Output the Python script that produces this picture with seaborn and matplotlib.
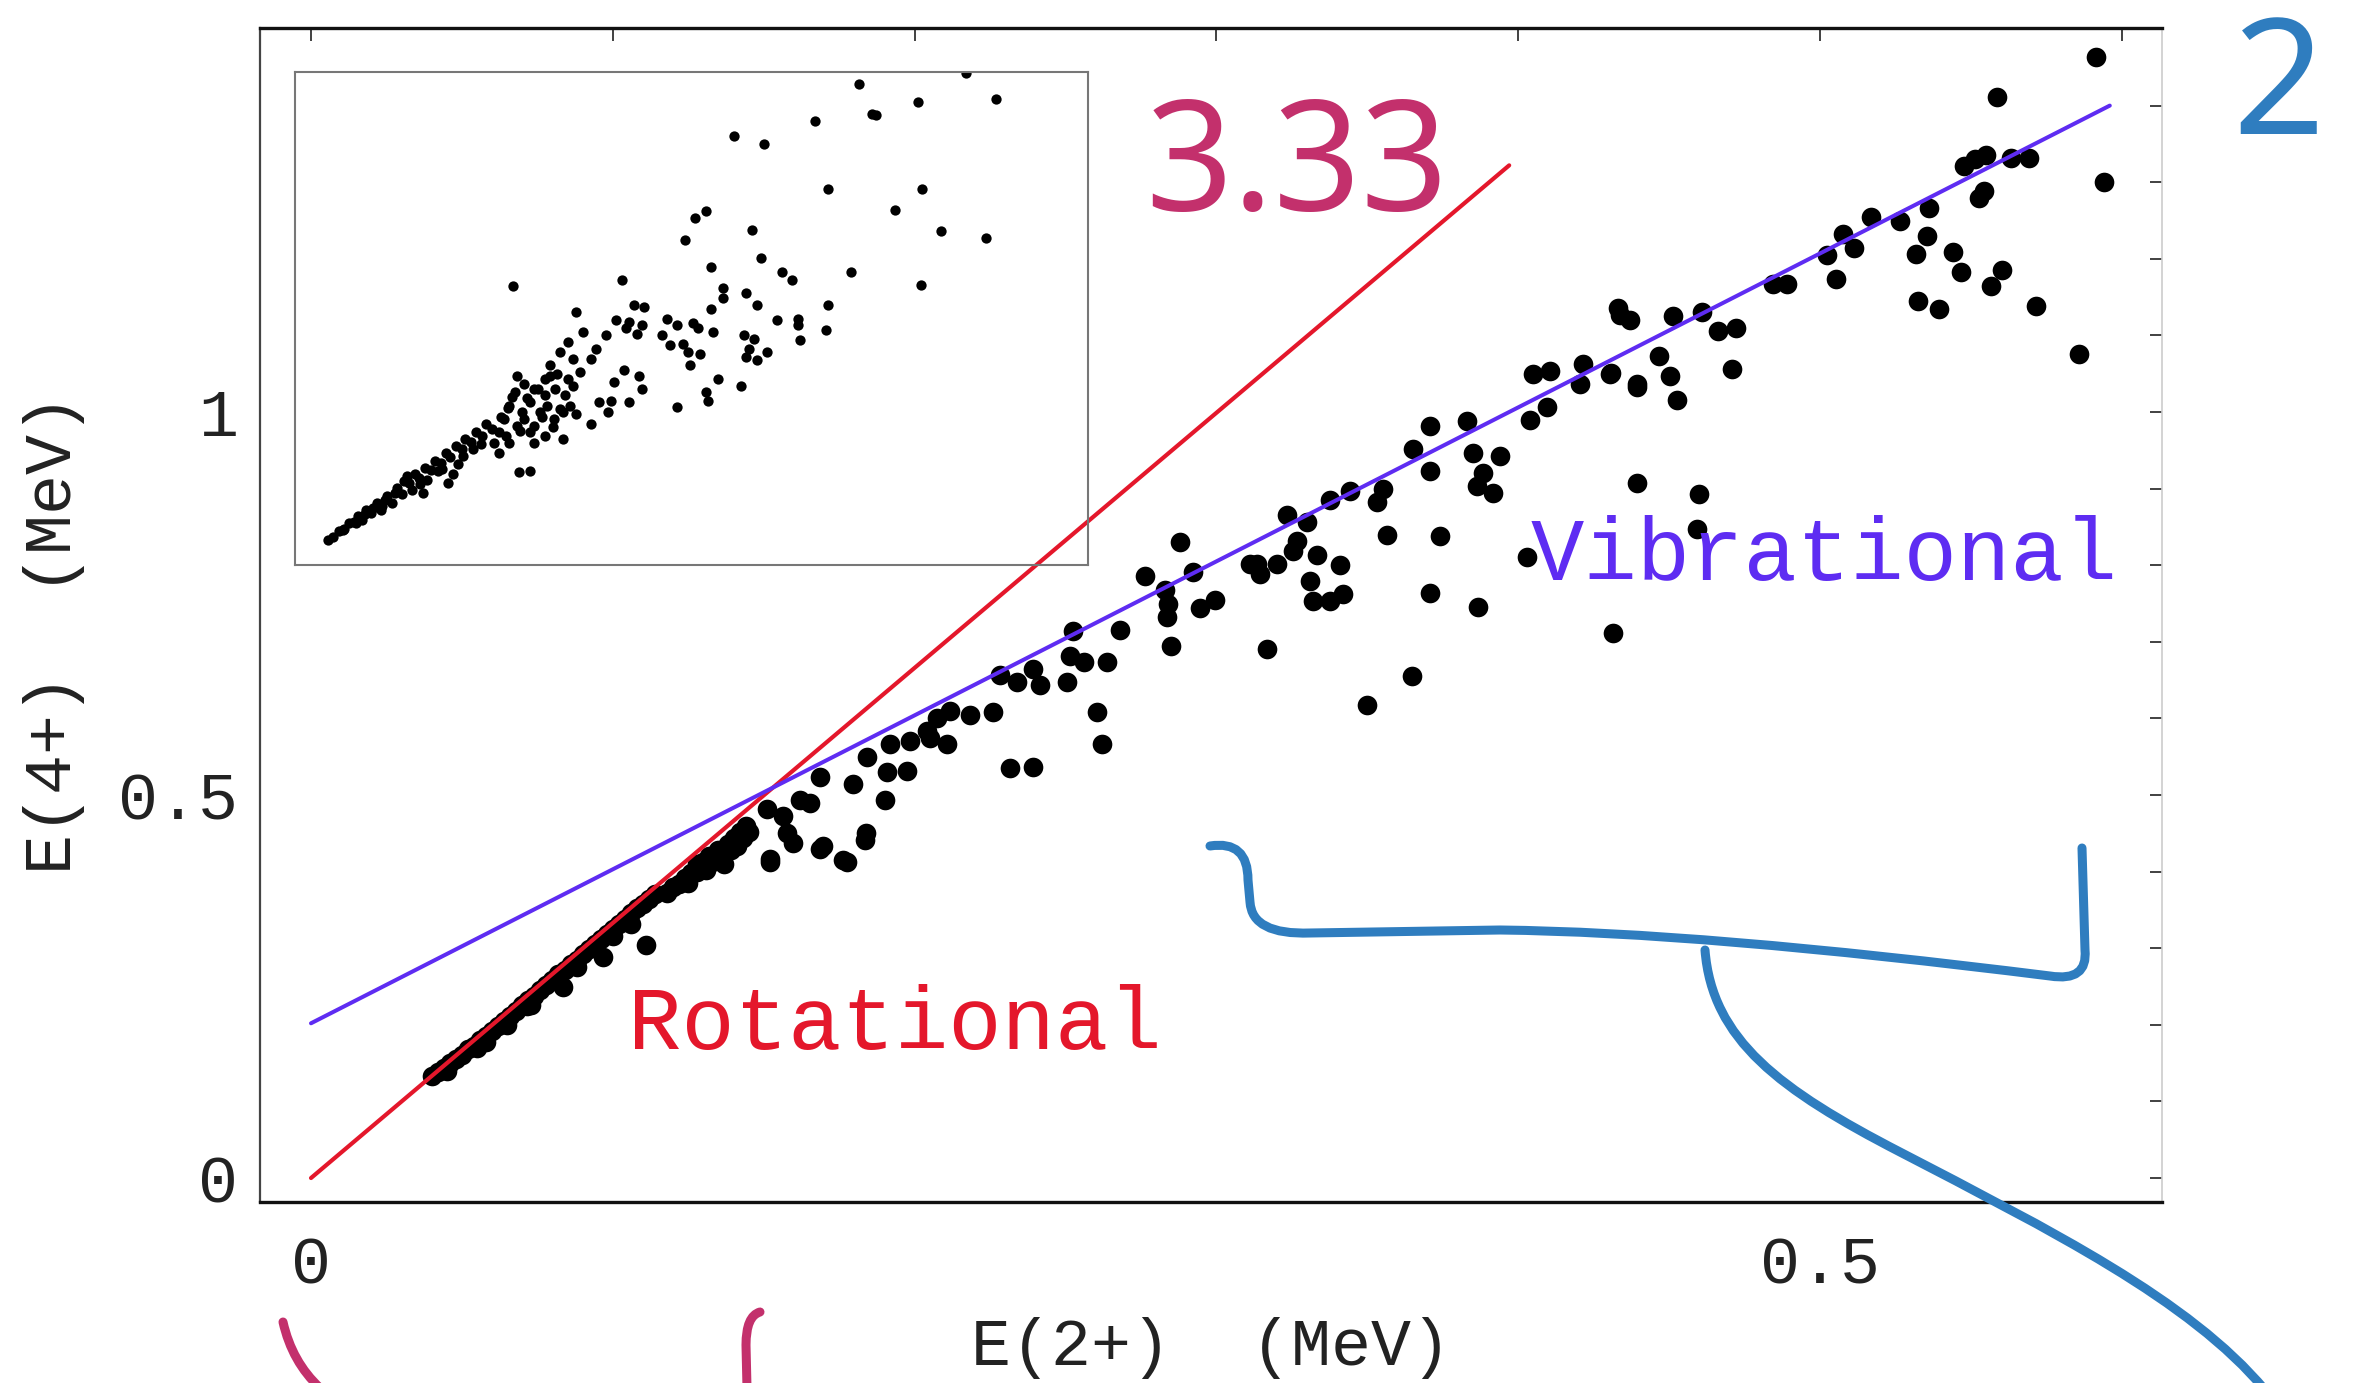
import matplotlib
matplotlib.use("Agg")
import matplotlib.pyplot as plt
from matplotlib.path import Path
from matplotlib.patches import PathPatch
import pandas as pd
import seaborn as sns

# ---- data (MeV) ----
e2_plus = [
    0.040, 0.042, 0.044, 0.046, 0.048, 0.050, 0.052, 0.054, 0.056, 0.058,
    0.060, 0.062, 0.064, 0.066, 0.068, 0.070, 0.072, 0.074, 0.076, 0.078,
    0.080, 0.082, 0.084, 0.086, 0.088, 0.090, 0.092, 0.094, 0.096, 0.098,
    0.100, 0.102, 0.104, 0.106, 0.108, 0.110, 0.112, 0.114, 0.045, 0.055,
    0.065, 0.073, 0.0836, 0.0969, 0.111, 0.0715, 0.058, 0.088, 0.100, 0.106,
    0.118, 0.120, 0.122, 0.124, 0.126, 0.128, 0.128, 0.130, 0.132, 0.133,
    0.135, 0.136, 0.138, 0.139, 0.140, 0.141, 0.142, 0.143, 0.144, 0.145,
    0.131, 0.137, 0.125,
    0.1687, 0.1698, 0.1764, 0.152, 0.162, 0.151, 0.1565, 0.1653, 0.1521, 0.1576,
    0.1598, 0.1687, 0.1775, 0.184, 0.1834, 0.1902, 0.1797, 0.1841, 0.1908, 0.1974,
    0.1918, 0.1985, 0.205, 0.2106, 0.204, 0.2073, 0.2117, 0.2184, 0.2261, 0.2316,
    0.2393, 0.2283, 0.2338, 0.2393, 0.2416, 0.2504, 0.2515, 0.256, 0.2637, 0.2526,
    0.268, 0.2603, 0.262, 0.2763, 0.288, 0.2924, 0.283, 0.284, 0.2835, 0.285,
    0.2946, 0.2995, 0.311,
    0.4337, 0.4370, 0.405, 0.4105, 0.4216, 0.4205, 0.4304, 0.4393, 0.4039, 0.4094,
    0.3708, 0.3829, 0.3652, 0.3708, 0.3851, 0.394, 0.3884, 0.3862, 0.3917, 0.4393,
    0.3553, 0.3531, 0.3443, 0.3376, 0.3233, 0.3299, 0.3266, 0.3332, 0.3255, 0.3134,
    0.3200, 0.3144, 0.341, 0.331, 0.332, 0.3376, 0.342, 0.3564, 0.374, 0.3166,
    0.3708, 0.3868, 0.4028, 0.4315, 0.3647, 0.3498, 0.460, 0.4593,
    0.5914, 0.5585, 0.594, 0.5478, 0.5514, 0.5549, 0.5632, 0.5691, 0.5525, 0.5543,
    0.536, 0.5265, 0.517, 0.5076, 0.5111, 0.5023, 0.5052, 0.5354, 0.5318, 0.5442,
    0.5466, 0.5602, 0.5566, 0.5323, 0.5395, 0.5715, 0.5857, 0.4845, 0.4892, 0.433,
    0.4514, 0.4608, 0.4662, 0.472, 0.4709, 0.4466, 0.4502, 0.4526, 0.4395, 0.4307,
]
e4_plus = [
    0.133, 0.138, 0.143, 0.150, 0.155, 0.160, 0.168, 0.172, 0.180, 0.186,
    0.192, 0.198, 0.205, 0.212, 0.218, 0.226, 0.232, 0.238, 0.246, 0.252,
    0.258, 0.266, 0.272, 0.279, 0.285, 0.292, 0.299, 0.305, 0.312, 0.318,
    0.325, 0.332, 0.338, 0.346, 0.352, 0.358, 0.364, 0.371, 0.140, 0.170,
    0.200, 0.226, 0.2495, 0.288, 0.304, 0.224, 0.178, 0.276, 0.316, 0.332,
    0.372, 0.380, 0.384, 0.392, 0.398, 0.400, 0.410, 0.412, 0.420, 0.412,
    0.428, 0.420, 0.436, 0.428, 0.444, 0.434, 0.452, 0.444, 0.460, 0.452,
    0.402, 0.410, 0.385,
    0.524, 0.433, 0.4155, 0.412, 0.494, 0.482, 0.473, 0.490, 0.417, 0.451,
    0.438, 0.429, 0.413, 0.450, 0.441, 0.494, 0.515, 0.550, 0.530, 0.532,
    0.567, 0.571, 0.575, 0.566, 0.584, 0.601, 0.610, 0.605, 0.608, 0.535,
    0.537, 0.657, 0.648, 0.665, 0.643, 0.647, 0.682, 0.673, 0.673, 0.7145,
    0.716, 0.608, 0.567, 0.7855, 0.8307, 0.791, 0.768, 0.750, 0.733, 0.694,
    0.7436, 0.754, 0.801,
    1.127, 1.120, 1.050, 1.054, 1.063, 1.037, 1.050, 1.032, 0.989, 1.006,
    0.982, 0.988, 0.952, 0.923, 0.947, 0.942, 0.920, 0.903, 0.894, 0.907,
    0.900, 0.883, 0.897, 0.885, 0.866, 0.857, 0.831, 0.813, 0.818, 0.802,
    0.802, 0.789, 0.800, 0.779, 0.753, 0.753, 0.762, 0.839, 0.838, 0.690,
    0.764, 0.746, 0.811, 0.711, 0.656, 0.617, 0.893, 0.847,
    1.464, 1.411, 1.300, 1.321, 1.330, 1.336, 1.331, 1.331, 1.279, 1.288,
    1.266, 1.249, 1.254, 1.233, 1.214, 1.205, 1.174, 1.230, 1.206, 1.209,
    1.183, 1.186, 1.164, 1.145, 1.134, 1.138, 1.076, 1.167, 1.167, 1.136,
    1.125, 1.131, 1.106, 1.110, 1.056, 1.073, 1.047, 1.016, 1.036, 1.051,
]

# inset: same kind of plot on its own (unlabelled) scale, 0..1 of the box
inset_x = [
    0.711, 0.846, 0.884, 0.785, 0.727, 0.733, 0.656, 0.553, 0.592, 0.672,
    0.791, 0.756, 0.518, 0.505, 0.576, 0.814, 0.871, 0.492, 0.588, 0.524,
    0.614, 0.627, 0.701, 0.790, 0.412, 0.275, 0.540, 0.540, 0.569, 0.582,
    0.672, 0.428, 0.440, 0.524, 0.354, 0.608, 0.634, 0.634, 0.669, 0.405,
    0.421, 0.437, 0.418, 0.431, 0.469, 0.482, 0.502, 0.508, 0.527, 0.463,
    0.473, 0.489, 0.495, 0.511, 0.566, 0.579, 0.572, 0.595, 0.569, 0.582,
    0.637, 0.498, 0.534, 0.518, 0.521, 0.563, 0.482, 0.363, 0.344, 0.379,
    0.392, 0.373, 0.334, 0.350, 0.322, 0.331, 0.344, 0.360, 0.315, 0.415,
    0.434, 0.437, 0.402, 0.383, 0.399, 0.421, 0.395, 0.354, 0.373, 0.325,
    0.338, 0.296, 0.283,
    0.280, 0.289, 0.277, 0.302, 0.315, 0.296, 0.270, 0.286, 0.309, 0.264,
    0.280, 0.296, 0.257, 0.251, 0.270, 0.302, 0.257, 0.289, 0.318, 0.328,
    0.341, 0.350, 0.322, 0.334, 0.347, 0.302, 0.315,
    0.042, 0.055, 0.068, 0.080, 0.090, 0.103, 0.116, 0.129, 0.138, 0.151,
    0.164, 0.177, 0.190, 0.203, 0.215, 0.228, 0.241, 0.077, 0.096, 0.122,
    0.148, 0.167, 0.186, 0.161, 0.206, 0.199, 0.193, 0.109, 0.225, 0.141,
    0.060, 0.085, 0.110, 0.135, 0.158, 0.180, 0.212, 0.235,
    0.048, 0.062, 0.074, 0.088, 0.098, 0.114, 0.126, 0.144, 0.156, 0.172,
    0.184, 0.196, 0.210, 0.222, 0.236, 0.248, 0.260, 0.268, 0.274, 0.292,
    0.306, 0.312, 0.326, 0.338, 0.284, 0.266,
]
inset_y = [
    0.976, 0.997, 0.946, 0.939, 0.915, 0.912, 0.901, 0.871, 0.854, 0.762,
    0.762, 0.721, 0.718, 0.704, 0.680, 0.677, 0.663, 0.660, 0.622, 0.605,
    0.595, 0.578, 0.595, 0.568, 0.578, 0.566, 0.561, 0.541, 0.551, 0.527,
    0.527, 0.527, 0.524, 0.520, 0.514, 0.497, 0.500, 0.486, 0.476, 0.497,
    0.493, 0.486, 0.480, 0.469, 0.500, 0.486, 0.490, 0.480, 0.473, 0.466,
    0.446, 0.449, 0.432, 0.429, 0.466, 0.459, 0.439, 0.432, 0.422, 0.415,
    0.456, 0.405, 0.378, 0.350, 0.333, 0.364, 0.320, 0.473, 0.452, 0.439,
    0.466, 0.418, 0.432, 0.418, 0.405, 0.388, 0.378, 0.391, 0.378, 0.395,
    0.384, 0.357, 0.371, 0.330, 0.333, 0.330, 0.310, 0.306, 0.286, 0.279,
    0.255, 0.190, 0.189,
    0.384, 0.367, 0.350, 0.357, 0.344, 0.330, 0.323, 0.310, 0.310, 0.296,
    0.282, 0.269, 0.269, 0.248, 0.248, 0.248, 0.228, 0.296, 0.323, 0.357,
    0.344, 0.364, 0.384, 0.316, 0.323, 0.282, 0.262,
    0.051, 0.068, 0.085, 0.099, 0.112, 0.126, 0.139, 0.156, 0.170, 0.184,
    0.197, 0.211, 0.228, 0.241, 0.255, 0.269, 0.286, 0.085, 0.105, 0.126,
    0.153, 0.173, 0.194, 0.146, 0.204, 0.184, 0.167, 0.112, 0.235, 0.180,
    0.070, 0.092, 0.120, 0.145, 0.165, 0.190, 0.222, 0.245,
    0.056, 0.074, 0.088, 0.104, 0.116, 0.132, 0.146, 0.166, 0.176, 0.192,
    0.206, 0.220, 0.236, 0.250, 0.262, 0.276, 0.300, 0.318, 0.340, 0.338,
    0.356, 0.300, 0.296, 0.310, 0.272, 0.262,
]

# reference lines: rotational limit (ratio 3.33) and vibrational (ratio 2)
rot_x = [0.0, 0.397]
rot_y = [0.0, 1.322]
vib_x = [0.0, 0.596]
vib_y = [0.202, 1.400]

x_ticks = [0.0, 0.1, 0.2, 0.3, 0.4, 0.5, 0.6]
x_ticklabels = ["0", "", "", "", "", "0.5", ""]
y_ticks = [0.0, 0.1, 0.2, 0.3, 0.4, 0.5, 0.6, 0.7, 0.8, 0.9, 1.0, 1.1, 1.2, 1.3, 1.4]
y_ticklabels = ["0", "", "", "", "", "0.5", "", "", "", "", "1", "", "", "", ""]

# handwritten marks on top of the scan (figure pixels)
bracket_verts = [(1210, 846), (1248, 840), (1248, 880), (1250, 902), (1252, 935),
                 (1310, 933), (1500, 930), (1700, 932), (2050, 976), (2088, 982),
                 (2085, 950), (2082, 848)]
bracket_codes = [Path.MOVETO, Path.CURVE3, Path.CURVE3, Path.LINETO, Path.CURVE3,
                 Path.CURVE3, Path.LINETO, Path.CURVE3, Path.CURVE3, Path.CURVE3,
                 Path.CURVE3, Path.LINETO]
tail_verts = [(1705, 950), (1712, 1040), (1780, 1090), (1900, 1152),
              (2050, 1230), (2190, 1300), (2265, 1390)]
tail_codes = [Path.MOVETO] + [Path.CURVE4] * 6
mark1_verts = [(283, 1322), (292, 1362), (320, 1388)]
mark1_codes = [Path.MOVETO, Path.CURVE3, Path.CURVE3]
mark2_verts = [(760, 1312), (746, 1316), (746, 1345), (747, 1388)]
mark2_codes = [Path.MOVETO, Path.CURVE3, Path.CURVE3, Path.LINETO]

RED = "#e4172b"
VIOLET = "#5e2cf2"
PEN_BLUE = "#2f7dbf"
PEN_PINK = "#c3306c"

sns.set_style("white")
plt.rcParams["font.family"] = ["Liberation Mono", "DejaVu Sans"]

W, H = 2356, 1383
fig = plt.figure(figsize=(W / 100, H / 100), dpi=100)
fig.patch.set_facecolor("white")

ax = fig.add_axes([260 / W, 1 - 1202 / H, 1902 / W, 1174 / H])
df = pd.DataFrame({"E2": e2_plus, "E4": e4_plus})
sns.scatterplot(data=df, x="E2", y="E4", ax=ax, color="black", s=200,
                linewidth=0, zorder=3, legend=False)
sns.lineplot(x=rot_x, y=rot_y, ax=ax, color=RED, lw=3.0, zorder=4, sort=False)
sns.lineplot(x=vib_x, y=vib_y, ax=ax, color=VIOLET, lw=2.9, zorder=4, sort=False)

ax.set_xlim(-0.0169, 0.6133)
ax.set_ylim(-0.0313, 1.5013)
ax.set_xticks(x_ticks)
ax.set_xticklabels(x_ticklabels)
ax.set_yticks(y_ticks)
ax.set_yticklabels(y_ticklabels)
ax.tick_params(direction="in", top=True, right=True, length=9, width=1.3,
               color="#333333", labelsize=48, labelcolor="#222222")
ax.tick_params(axis="x", pad=24)
ax.tick_params(axis="y", pad=16)
ax.set_xlabel("E(2+)  (MeV)", fontsize=48, color="#222222")
ax.set_ylabel("E(4+)  (MeV)", fontsize=48, color="#222222")
ax.xaxis.set_label_coords(0.5, -0.098)
ax.yaxis.set_label_coords(-0.092, 0.484)

for side, col, lw in [("top", "#111111", 2.4), ("bottom", "#111111", 2.4),
                      ("left", "#444444", 1.6), ("right", "#cccccc", 1.2)]:
    ax.spines[side].set_visible(True)
    ax.spines[side].set_color(col)
    ax.spines[side].set_linewidth(lw)

ax.text(0.105, 0.198, "Rotational", color=RED, fontsize=64, ha="left", va="center")
ax.text(0.404, 0.811, "Vibrational", color=VIOLET, fontsize=64, ha="left", va="center")

# inset box
axin = fig.add_axes([295 / W, 1 - 565 / H, 793 / W, 493 / H])
axin.patch.set_alpha(0)
sns.scatterplot(x=inset_x, y=inset_y, ax=axin, color="black", s=55, linewidth=0)
axin.set_xlim(0, 1)
axin.set_ylim(0, 1)
axin.set_xticks([])
axin.set_yticks([])
axin.set_xlabel("")
axin.set_ylabel("")
for sp in axin.spines.values():
    sp.set_visible(True)
    sp.set_color("#777777")
    sp.set_linewidth(1.5)

# pen annotations
over = fig.add_axes([0, 0, 1, 1], zorder=10)
over.set_xlim(0, W)
over.set_ylim(H, 0)
over.axis("off")
for verts, codes, col in [(bracket_verts, bracket_codes, PEN_BLUE),
                          (tail_verts, tail_codes, PEN_BLUE),
                          (mark1_verts, mark1_codes, PEN_PINK),
                          (mark2_verts, mark2_codes, PEN_PINK)]:
    over.add_patch(PathPatch(Path(verts, codes), fill=False, edgecolor=col,
                             lw=6.5, capstyle="round", joinstyle="round"))

fig.text(1145 / W, 1 - 210 / H, "3.33", color=PEN_PINK, fontsize=110,
         family="Noto Sans", ha="left", va="baseline")
fig.text(2232 / W, 1 - 134 / H, "2", color=PEN_BLUE, fontsize=116,
         family="Noto Sans", ha="left", va="baseline")

fig.savefig("out.png", dpi=100, facecolor="white")
plt.close(fig)
